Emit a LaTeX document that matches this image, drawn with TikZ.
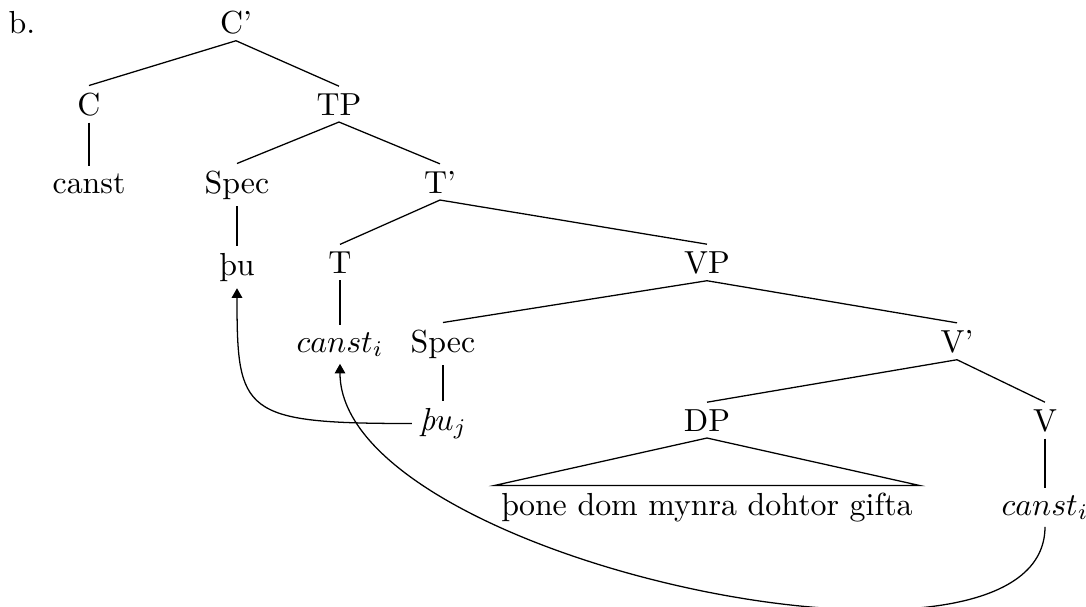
\documentclass[tikz,border=0pt]{standalone}
\usetikzlibrary{arrows.meta}
\begin{document}
\begin{tikzpicture}[x=0.3135pt,y=-0.3135pt,
  tn/.style={anchor=base,inner sep=2pt},
  br/.style={line width=0.4pt},
  mv/.style={line width=0.4pt,-{Triangle[length=3pt,width=3.3pt]}}]
\useasboundingbox (0,0) rectangle (1086,606);
\node[tn] (lab) at (22,33) {b.};
\node[tn] (Cbar) at (236,33) {C'};
\node[tn] (C) at (89,115) {C};
\node[tn] (TP) at (339,115) {TP};
\node[tn] (canst) at (89,193) {canst};
\node[tn] (Spec1) at (237,193) {Spec};
\node[tn] (Tbar) at (440,193) {T'};
\node[tn] (pu) at (237,275) {þu};
\node[tn] (T) at (340,273) {T};
\node[tn] (VP) at (707,273) {VP};
\node[tn] (tcanst) at (340,352) {$canst_i$};
\node[tn] (Spec2) at (443,352) {Spec};
\node[tn] (Vbar) at (957,352) {V'};
\node[tn] (puj) at (443,430) {\textit{þ}$u_j$};
\node[tn] (DP) at (707,431) {DP};
\node[tn] (V) at (1045,431) {V};
\node[tn] (dptext) at (707,515) {þone dom mynra dohtor gifta};
\node[tn] (vcanst) at (1045,515) {$canst_i$};
\draw[br] (Cbar.south) -- (C.north);
\draw[br] (Cbar.south) -- (TP.north);
\draw[br] (C.south) -- (canst.north);
\draw[br] (TP.south) -- (Spec1.north);
\draw[br] (TP.south) -- (Tbar.north);
\draw[br] (Spec1.south) -- (pu.north);
\draw[br] (Tbar.south) -- (T.north);
\draw[br] (Tbar.south) -- (VP.north);
\draw[br] (T.south) -- (tcanst.north);
\draw[br] (VP.south) -- (Spec2.north);
\draw[br] (VP.south) -- (Vbar.north);
\draw[br] (Spec2.south) -- (puj.north);
\draw[br] (Vbar.south) -- (DP.north);
\draw[br] (Vbar.south) -- (V.north);
\draw[br] (V.south) -- (vcanst.north);
\draw[br] (DP.south) -- (dptext.north west) -- (dptext.north east) -- cycle;
\draw[mv] (puj.west) .. controls +(-170,0) and +(0,125) .. (pu.south);
\draw[mv] (vcanst.south) .. controls +(0,182) and +(0,198) .. (tcanst.south);
\end{tikzpicture}
\end{document}
